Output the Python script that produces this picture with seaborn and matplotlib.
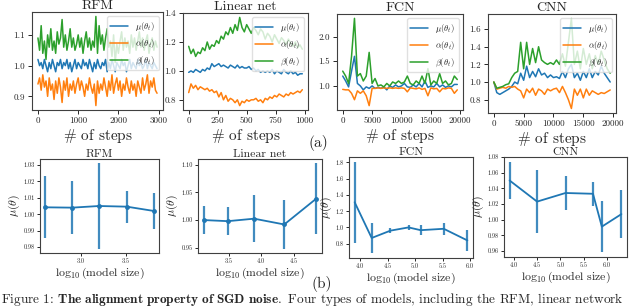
import numpy as np
import pandas as pd
import matplotlib
matplotlib.use("Agg")
import matplotlib.pyplot as plt
import seaborn as sns

# ---------------- data ----------------
series_labels = [r"$\mu(\theta_t)$", r"$\alpha(\theta_t)$", r"$\beta(\theta_t)$"]

rfm_step = 40
rfm_mu = [1.02, 1.00, 1.01, 0.99, 1.02, 1.00, 0.98, 1.01, 0.99, 1.02, 1.00, 0.98, 1.01, 1.00, 1.02,
          0.99, 1.01, 1.00, 1.02, 0.99, 1.01, 0.98, 1.00, 1.02, 0.99, 1.01, 1.00, 0.99, 1.02, 1.00,
          1.01, 0.99, 1.02, 1.00, 0.98, 1.01, 0.99, 1.02, 1.00, 0.99, 1.01, 1.00, 1.02, 0.98, 1.01,
          0.99, 1.02, 1.00, 0.98, 1.01, 1.00, 0.99, 1.02, 1.00, 1.01, 0.98, 1.00, 1.02, 0.99, 1.01,
          1.00, 0.99, 1.02, 1.00, 1.01, 0.99, 1.00, 1.02, 0.99, 1.01, 1.00, 0.99, 1.01, 1.00, 0.99]
rfm_alpha = [0.94, 0.96, 0.92, 0.97, 0.93, 0.95, 0.90, 0.96, 0.92, 0.94, 0.89, 0.95, 0.91, 0.96, 0.93,
             0.88, 0.95, 0.92, 0.96, 0.90, 0.94, 0.92, 0.95, 0.91, 0.94, 0.96, 0.92, 0.95, 0.93, 0.90,
             0.94, 0.92, 0.96, 0.93, 0.91, 0.94, 0.87, 0.95, 0.91, 0.94, 0.92, 0.96, 0.93, 0.90, 0.95,
             0.92, 0.97, 0.91, 0.94, 0.96, 0.92, 0.95, 0.90, 0.94, 0.92, 0.96, 0.93, 0.91, 0.95, 0.92,
             0.94, 0.90, 0.95, 0.93, 0.91, 0.96, 0.92, 0.94, 0.97, 0.91, 0.95, 0.93, 0.96, 0.92, 0.91]
rfm_beta = [1.09, 1.05, 1.13, 1.04, 1.08, 1.02, 1.10, 1.06, 1.12, 1.05, 1.08, 1.04, 1.11, 1.07, 1.09,
            1.15, 1.06, 1.10, 1.05, 1.08, 1.12, 1.06, 1.09, 1.05, 1.07, 1.10, 1.06, 1.09, 1.04, 1.08,
            1.11, 1.06, 1.09, 1.05, 1.08, 1.06, 1.16, 1.04, 1.13, 1.07, 1.10, 1.05, 1.09, 1.12, 1.06,
            1.08, 1.03, 1.10, 1.01, 1.07, 1.04, 1.08, 1.11, 1.05, 1.09, 1.06, 1.08, 1.04, 1.10, 1.06,
            1.09, 1.05, 1.08, 1.11, 1.06, 1.09, 1.05, 1.08, 1.10, 1.04, 1.07, 1.09, 1.05, 1.08, 1.06]

lin_step = 20
lin_mu = [0.99, 1.00, 0.99, 1.01, 1.00, 0.99, 1.01, 1.00, 1.02, 1.01, 1.05, 1.03, 1.04, 1.05, 1.03,
          1.04, 1.03, 1.02, 1.04, 1.03, 1.02, 1.04, 1.02, 1.03, 1.02, 1.02, 1.03, 1.01, 1.02, 1.00,
          1.01, 0.99, 1.00, 0.99, 1.00, 0.99, 1.01, 0.98, 1.00, 0.99, 0.98, 1.01, 0.99, 0.98, 1.00,
          0.98, 0.99, 0.97, 0.98, 0.98]
lin_alpha = [0.85, 0.91, 0.88, 0.90, 0.87, 0.89, 0.88, 0.87, 0.88, 0.86, 0.87, 0.85, 0.86, 0.82, 0.85,
             0.80, 0.83, 0.79, 0.81, 0.80, 0.78, 0.80, 0.76, 0.79, 0.78, 0.80, 0.79, 0.80, 0.80, 0.81,
             0.79, 0.80, 0.78, 0.81, 0.80, 0.82, 0.81, 0.83, 0.82, 0.84, 0.83, 0.82, 0.84, 0.83, 0.85,
             0.84, 0.85, 0.86, 0.85, 0.87]
lin_beta = [1.17, 1.12, 1.15, 1.10, 1.13, 1.12, 1.16, 1.14, 1.20, 1.15, 1.18, 1.17, 1.21, 1.19, 1.24,
            1.22, 1.27, 1.25, 1.30, 1.26, 1.32, 1.28, 1.37, 1.30, 1.27, 1.32, 1.29, 1.26, 1.30, 1.28,
            1.25, 1.29, 1.27, 1.22, 1.26, 1.24, 1.20, 1.25, 1.22, 1.19, 1.23, 1.21, 1.18, 1.22, 1.19,
            1.17, 1.20, 1.16, 1.18, 1.15]

fcn_step = 500
fcn_mu = [1.20, 1.10, 0.98, 1.30, 1.60, 1.05, 1.00, 0.92, 0.98, 0.95, 1.00, 0.95, 0.97, 0.95, 0.98,
          0.92, 1.00, 0.97, 1.02, 0.98, 1.00, 1.05, 0.98, 0.97, 1.02, 0.98, 1.05, 0.98, 1.10, 0.97,
          1.00, 0.98, 1.05, 0.98, 1.02, 0.97, 1.00, 0.98, 1.03, 1.03]
fcn_alpha = [0.93, 0.92, 0.92, 0.85, 0.72, 0.90, 0.85, 0.90, 0.80, 0.60, 0.95, 0.95, 0.96, 0.95, 0.96,
             0.95, 0.96, 0.95, 0.96, 0.95, 0.96, 0.95, 0.88, 0.96, 0.95, 0.94, 0.96, 0.93, 0.95, 0.80,
             0.96, 0.94, 0.95, 0.88, 0.95, 0.94, 0.96, 0.95, 0.85, 0.92]
fcn_beta = [1.30, 1.20, 1.05, 1.60, 2.37, 1.20, 1.25, 1.10, 1.20, 1.68, 1.05, 1.15, 1.00, 1.02, 0.98,
            1.05, 1.00, 1.08, 1.05, 1.10, 1.05, 1.08, 1.20, 1.05, 1.02, 1.10, 1.05, 1.20, 1.05, 1.35,
            1.02, 1.10, 1.05, 1.25, 1.05, 1.10, 1.02, 1.05, 1.20, 1.13]

cnn_step = 500
cnn_mu = [1.00, 0.88, 0.86, 0.88, 0.90, 0.92, 0.95, 1.00, 0.98, 1.10, 1.02, 1.18, 1.05, 1.12, 1.06,
          1.15, 1.08, 1.10, 1.05, 1.08, 1.05, 1.06, 1.04, 1.12, 1.05, 1.15, 1.20, 1.05, 1.10, 1.02,
          1.12, 1.05, 1.15, 1.05, 1.12, 1.08, 1.18, 1.10, 1.05, 1.00]
cnn_alpha = [1.00, 0.92, 0.93, 0.94, 0.93, 0.95, 0.94, 0.95, 0.92, 0.90, 0.82, 0.92, 0.88, 0.93, 0.85,
             0.92, 0.90, 0.86, 0.92, 0.90, 0.92, 0.93, 0.88, 0.95, 0.88, 0.80, 0.70, 0.92, 0.85, 0.92,
             0.82, 0.92, 0.85, 0.90, 0.88, 0.86, 0.88, 0.87, 0.89, 0.91]
cnn_beta = [1.00, 0.93, 0.94, 0.95, 0.97, 0.98, 1.05, 1.10, 1.12, 1.45, 1.15, 1.45, 1.20, 1.38, 1.22,
            1.40, 1.25, 1.22, 1.20, 1.22, 1.20, 1.25, 1.20, 1.32, 1.18, 1.45, 1.72, 1.20, 1.35, 1.15,
            1.38, 1.20, 1.32, 1.15, 1.30, 1.20, 1.35, 1.25, 1.15, 1.10]

# bottom row: log10(model size), mean mu, error half-width
rfm_size = [2.60, 2.90, 3.20, 3.51, 3.81]
rfm_muv = [1.0042, 1.0040, 1.0050, 1.0046, 1.0020]
rfm_err = [0.0188, 0.0160, 0.0260, 0.0098, 0.0110]

lin_size = [3.12, 3.49, 3.89, 4.35, 4.84]
lin_muv = [1.000, 0.998, 1.0025, 0.992, 1.039]
lin_err = [0.026, 0.026, 0.043, 0.044, 0.064]

fcn_size = [3.90, 4.21, 4.55, 4.88, 5.10, 5.52, 5.95]
fcn_muv = [1.31, 0.87, 0.96, 1.00, 0.966, 0.983, 0.84]
fcn_err = [0.50, 0.19, 0.03, 0.035, 0.06, 0.075, 0.13]

cnn_size = [3.91, 4.50, 5.11, 5.70, 5.89, 6.31]
cnn_muv = [1.050, 1.023, 1.034, 1.033, 0.991, 1.007]
cnn_err = [0.024, 0.040, 0.022, 0.015, 0.033, 0.031]

titles = ["RFM", "Linear net", "FCN", "CNN"]

# ---------------- style ----------------
sns.set_theme(style="ticks")
plt.rcParams.update({
    "font.family": ["cmr10", "DejaVu Serif"],
    "mathtext.fontset": "cm",
    "axes.formatter.use_mathtext": True,
    "axes.unicode_minus": False,
    "axes.edgecolor": "0.25",
    "axes.linewidth": 0.8,
    "xtick.major.size": 3,
    "ytick.major.size": 3,
    "xtick.major.width": 0.7,
    "ytick.major.width": 0.7,
    "xtick.major.pad": 2,
    "ytick.major.pad": 2,
})
pal = ["#1f77b4", "#ff7f0e", "#2ca02c"]

W, H = 640, 308
fig = plt.figure(figsize=(W / 100, H / 100), dpi=100)


def add_ax(l, r, t, b):
    return fig.add_axes([l / W, 1 - b / H, (r - l) / W, (b - t) / H])


top_boxes = [(32, 163, 12, 110), (183, 308, 13, 110), (337, 463, 14, 110), (488, 616, 14, 113)]
bot_boxes = [(40, 159, 159, 253), (198, 322, 159, 253), (349, 473, 157, 258), (504, 627, 157, 257)]

top_data = [
    (rfm_step, [rfm_mu, rfm_alpha, rfm_beta], [0, 1000, 2000, 3000], [0.9, 1.0, 1.1]),
    (lin_step, [lin_mu, lin_alpha, lin_beta], [0, 250, 500, 750, 1000], [0.8, 1.0, 1.2, 1.4]),
    (fcn_step, [fcn_mu, fcn_alpha, fcn_beta], [0, 5000, 10000, 15000, 20000], [1.0, 1.5, 2.0]),
    (cnn_step, [cnn_mu, cnn_alpha, cnn_beta], [0, 5000, 10000, 15000, 20000], [0.8, 1.0, 1.2, 1.4, 1.6]),
]

for box, title, (step, ser, xt, yt) in zip(top_boxes, titles, top_data):
    ax = add_ax(*box)
    for s, lab, c in zip(ser, series_labels, pal):
        df = pd.DataFrame({"step": np.arange(len(s)) * step, "v": s})
        sns.lineplot(data=df, x="step", y="v", ax=ax, color=c, lw=1.1, label=lab)
    ax.set_xticks(xt)
    ax.set_yticks(yt)
    ax.set_xticklabels([str(v) for v in xt])
    ax.set_yticklabels([f"{v:.1f}" for v in yt])
    ax.tick_params(labelsize=6.5)
    ax.set_title(title, fontsize=10, pad=2)
    ax.set_xlabel(r"$\#$ of steps", fontsize=11, labelpad=1)
    ax.set_ylabel("")
    ax.legend(loc="upper right", fontsize=6.3, framealpha=0.8, handlelength=2.0,
              borderpad=0.4, labelspacing=0.5, handletextpad=0.8, edgecolor="0.85", fancybox=True)

bot_data = [
    (rfm_size, rfm_muv, rfm_err, [3.0, 3.5], [0.98, 0.99, 1.00, 1.01, 1.02, 1.03], True, "{:.2f}"),
    (lin_size, lin_muv, lin_err, [3.5, 4.0, 4.5], [0.95, 1.00, 1.05, 1.10], True, "{:.2f}"),
    (fcn_size, fcn_muv, fcn_err, [4.0, 4.5, 5.0, 5.5, 6.0], [0.8, 1.0, 1.2, 1.4, 1.6, 1.8], False, "{:.1f}"),
    (cnn_size, cnn_muv, cnn_err, [4.0, 4.5, 5.0, 5.5, 6.0], [0.96, 0.98, 1.00, 1.02, 1.04, 1.06, 1.08], False, "{:.2f}"),
]

for box, title, (xs, ys, es, xt, yt, mk, fmt) in zip(bot_boxes, titles, bot_data):
    ax = add_ax(*box)
    df = pd.DataFrame({"size": xs, "mu": ys})
    sns.lineplot(data=df, x="size", y="mu", ax=ax, color=pal[0], lw=1.3,
                 marker="o" if mk else None, markersize=3.5, markeredgewidth=0)
    ax.errorbar(xs, ys, yerr=es, fmt="none", ecolor=pal[0], elinewidth=1.6, alpha=0.85)
    ax.set_xticks(xt)
    ax.set_yticks(yt)
    ax.set_xticklabels([f"{v:.1f}" for v in xt])
    ax.set_yticklabels([fmt.format(v) for v in yt])
    ax.tick_params(labelsize=4.5, length=2)
    ax.set_title(title, fontsize=8.5, pad=1.5)
    ax.set_xlabel(r"$\log_{10}$(model size)", fontsize=8.5, labelpad=1)
    ax.set_ylabel(r"$\mu(\theta)$", fontsize=8.5, labelpad=1)

fig.text(318 / W, 1 - 143 / H, "(a)", fontsize=11, ha="center", va="center")
fig.text(322 / W, 1 - 284 / H, "(b)", fontsize=11, ha="center", va="center")
fig.text(1 / W, 1 - 302.5 / H,
         "Figure 1: " + r"$\mathbf{The\ alignment\ property\ of\ SGD\ noise.}$"
         + " Four types of models, including the RFM, linear network",
         fontsize=9.6, ha="left", va="baseline")

fig.savefig("out.png", dpi=100)
